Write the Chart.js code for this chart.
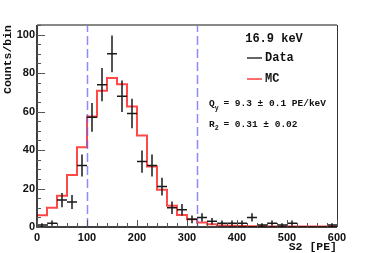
<!DOCTYPE html>
<html><head><meta charset="utf-8">
<script src="https://cdn.jsdelivr.net/npm/chart.js@4.4.1/dist/chart.umd.min.js"></script>
<style>html,body{margin:0;padding:0;background:#fff;}canvas{display:block;}</style>
</head><body>
<canvas id="c" width="374" height="253"></canvas>
<script>
// Bin edges (PE), bin width 20
const binEdges = [0,20,40,60,80,100,120,140,160,180,200,220,240,260,280,300,320,340,360,380,400,420,440,460,480,500,520,540,560,580,600];
// Data bin centres, counts and Poisson errors
const dataX = [10,30,50,70,90,110,130,150,170,190,210,230,250,270,290,310,330,350,370,390,410,430,450,470,490,510,530,550,570,590];
const dataCounts = [1,2,14,13,32,57,74,90,68,59,34,32,21,10,9,4,5,3,2,2,2,5,1,2,1,2,0,0,0,1];
const dataErr = [1,1.4,3.7,3.6,5.7,7.5,8.6,9.5,8.2,7.7,5.8,5.7,4.6,3.2,3,2,2.2,1.7,1.4,1.4,1.4,2.2,1,1.4,1,1.4,0,0,0,1];
// MC histogram contents per bin
const mcCounts = [6.1,10,16.3,27,41.4,57.5,70.8,77.4,74.2,62.6,47.5,31.5,19.3,11,6.3,4,2.4,1.4,0.8,0.6,0.5,0.4,0.4,0.3,0.3,0.3,0.3,0.2,0.2,0.2];
// Cut lines (PE)
const cutLines = [100,320];
const xTicks = [0,100,200,300,400,500,600];
const yTicks = [0,20,40,60,80,100];

// point at each bin's left edge carrying that bin's value; final point at the last right edge
const mcPoints = binEdges.map((e,i)=>({x:e, y: mcCounts[Math.min(i, mcCounts.length-1)]}));
const mono = "'Liberation Mono', 'DejaVu Sans Mono', monospace";

const decor = {
  id:'decor',
  afterDatasetsDraw(chart){
    const {ctx, chartArea:a, scales:{x,y}} = chart;
    ctx.save();
    // cut lines
    ctx.strokeStyle='rgba(100,100,255,0.75)'; ctx.lineWidth=1.5; ctx.setLineDash([9,4]);
    cutLines.forEach(v=>{const px=Math.round(x.getPixelForValue(v))+0.5; ctx.beginPath(); ctx.moveTo(px,a.bottom); ctx.lineTo(px,a.top); ctx.stroke();});
    ctx.setLineDash([]);
    // data crosses
    ctx.strokeStyle='#1a1a1a'; ctx.lineWidth=1.5;
    dataX.forEach((cx,i)=>{
      const n=dataCounts[i]; if(n<=0) return;
      const px=x.getPixelForValue(cx), py=y.getPixelForValue(n);
      ctx.beginPath();
      ctx.moveTo(x.getPixelForValue(cx-10),py); ctx.lineTo(x.getPixelForValue(cx+10),py);
      ctx.moveTo(px,y.getPixelForValue(n+dataErr[i])); ctx.lineTo(px,Math.min(a.bottom,y.getPixelForValue(n-dataErr[i])));
      ctx.stroke();
    });
    // frame
    ctx.lineWidth=2; ctx.strokeStyle='#888';
    ctx.beginPath(); ctx.moveTo(a.left,a.top); ctx.lineTo(a.right,a.top); ctx.stroke();
    ctx.lineWidth=1; ctx.strokeStyle='#333';
    ctx.beginPath(); ctx.moveTo(a.right+0.5,a.top); ctx.lineTo(a.right+0.5,a.bottom); ctx.stroke();
    ctx.strokeStyle='#000'; ctx.lineWidth=1.5;
    ctx.beginPath(); ctx.moveTo(a.left,a.top); ctx.lineTo(a.left,a.bottom); ctx.lineTo(a.right,a.bottom); ctx.stroke();
    // ticks
    ctx.lineWidth=1; ctx.strokeStyle='#555';
    for(let v=0; v<=105; v+=5){
      const py=Math.round(y.getPixelForValue(v))+0.5; const L=(v%20===0)?8:4;
      ctx.beginPath(); ctx.moveTo(a.left,py); ctx.lineTo(a.left+L,py); ctx.stroke();
    }
    for(let v=0; v<=600; v+=20){
      const px=Math.round(x.getPixelForValue(v))+0.5; const L=(v%100===0)?7:4;
      ctx.beginPath(); ctx.moveTo(px,a.bottom); ctx.lineTo(px,a.bottom-L); ctx.stroke();
    }
    // texts
    ctx.fillStyle='#111';
    ctx.font="bold 12px "+mono; ctx.textAlign='center'; ctx.textBaseline='middle';
    ctx.fillText('16.9 keV', 274, 39);
    ctx.textAlign='left';
    ctx.fillText('Data', 265, 58);
    ctx.fillText('MC', 265, 79);
    ctx.lineWidth=1.5;
    ctx.strokeStyle='#333'; ctx.beginPath(); ctx.moveTo(247,58); ctx.lineTo(262,58); ctx.stroke();
    ctx.strokeStyle='rgba(255,40,40,0.9)'; ctx.beginPath(); ctx.moveTo(247,79); ctx.lineTo(262,79); ctx.stroke();
    ctx.font="bold 9.5px "+mono;
    let w;
    ctx.fillText('Q', 209, 104); w=ctx.measureText('Q').width;
    ctx.font="bold 6.5px "+mono; ctx.fillText('y', 209+w, 108); 
    ctx.font="bold 9.5px "+mono; ctx.fillText(' = 9.3 \u00b1 0.1 PE/keV', 209+w+3, 104);
    ctx.fillText('R', 209, 125); w=ctx.measureText('R').width;
    ctx.font="bold 6.5px "+mono; ctx.fillText('2', 209+w, 128);
    ctx.font="bold 9.5px "+mono; ctx.fillText(' = 0.31 \u00b1 0.02', 209+w+3, 125);
    // axis titles
    ctx.font="bold 11.5px "+mono; ctx.fillStyle='#111';
    ctx.textAlign='right'; ctx.textBaseline='middle';
    ctx.fillText('S2 [PE]', a.right, 247);
    ctx.translate(8, a.top); ctx.rotate(-Math.PI/2);
    ctx.textAlign='right'; ctx.fillText('Counts/bin', 0, 0);
    ctx.restore();
  }
};

new Chart(document.getElementById('c'), {
  type:'line',
  data:{datasets:[{
    label:'MC', data: mcPoints, stepped:'before', borderColor:'rgba(255,40,40,0.85)', borderWidth:2,
    pointRadius:0, fill:false, tension:0
  }]},
  options:{
    responsive:false, animation:false, devicePixelRatio:1,
    layout:{padding:{top:25, right:37, left:0, bottom:0}},
    plugins:{legend:{display:false}, tooltip:{enabled:false}},
    scales:{
      x:{type:'linear', min:0, max:600,
        afterFit(s){s.height=26;},
        afterBuildTicks(s){s.ticks=xTicks.map(v=>({value:v}));},
        grid:{display:false, drawTicks:false}, border:{display:false},
        ticks:{color:'#111', font:{family:"'Liberation Sans', Arial, sans-serif", weight:'bold', size:11}, padding:4, maxRotation:0, autoSkip:false}
      },
      y:{type:'linear', min:0, max:105,
        afterFit(s){s.width=37;},
        afterBuildTicks(s){s.ticks=yTicks.map(v=>({value:v}));},
        grid:{display:false, drawTicks:false}, border:{display:false},
        ticks:{color:'#111', font:{family:"'Liberation Sans', Arial, sans-serif", weight:'bold', size:11}, padding:2}
      }
    }
  },
  plugins:[decor]
});
</script>
</body></html>
